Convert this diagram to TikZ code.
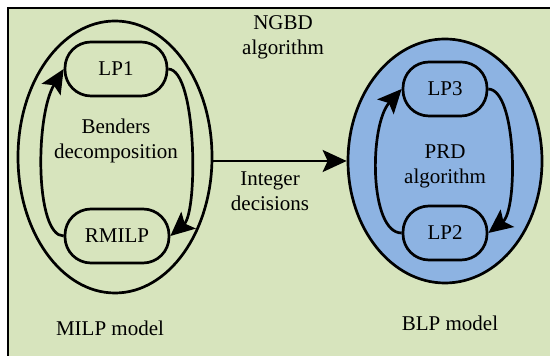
\documentclass[tikz,border=0pt]{standalone}
\usepackage{fontspec}
\setmainfont{Liberation Serif}
\usetikzlibrary{arrows.meta,shapes.geometric}
\definecolor{bggreen}{RGB}{215,228,189}
\definecolor{prdblue}{RGB}{141,179,226}
\tikzset{
  lpbox/.style={draw,rounded corners=13pt,minimum height=27pt,inner sep=0pt},
  modelell/.style={draw,ellipse,inner sep=0pt},
  loopline/.style={-{Stealth[length=12pt,width=11pt,inset=2.5pt]}}
}
\begin{document}
\begin{tikzpicture}[x=0.5pt,y=-0.5pt,line width=1.35pt,
        every node/.style={font=\rmfamily\fontsize{10.5}{12.5}\selectfont,align=center}]
        \useasboundingbox (0,0) rectangle (550,356);
        \clip (0,0) rectangle (550,356);
        \draw[fill=bggreen] (8,8) rectangle (600,400);
        % MILP side
        \node[modelell,minimum width=97pt,minimum height=136pt] (milp) at (115,157) {};
        \node[lpbox,minimum width=51pt] (lp1) at (116,69) {LP1};
        \node[lpbox,minimum width=52pt] (rmilp) at (117,236) {RMILP};
        \node (benders) at (116,141) {Benders\\decomposition};
        \draw[loopline] (lp1.east) .. controls (197,70) and (198,212) .. (rmilp.east);
        \draw[loopline] (rmilp.west) .. controls (35,236) and (35,116) .. (lp1.west);
        % BLP side
        \node[modelell,fill=prdblue,minimum width=97pt,minimum height=122pt] (blp) at (445,161) {};
        \node[lpbox,minimum width=42pt] (lp3) at (445,89) {LP3};
        \node[lpbox,minimum width=42pt] (lp2) at (445,233) {LP2};
        \node (prd) at (445,166) {PRD\\algorithm};
        \draw[loopline] (lp3.east) .. controls (517,90) and (518,210) .. (lp2.east);
        \draw[loopline] (lp2.west) .. controls (369,233) and (369,125) .. (lp3.west);
        % link and labels
        \draw[loopline] (milp.east |- blp.west) -- (blp.west);
        \node (ngbd) at (283,37) {NGBD\\algorithm};
        \node (integer) at (270,191) {Integer\\decisions};
        \node (milplabel) at (110,328) {MILP model};
        \node (blplabel) at (450,323) {BLP model};
\end{tikzpicture}
\end{document}
